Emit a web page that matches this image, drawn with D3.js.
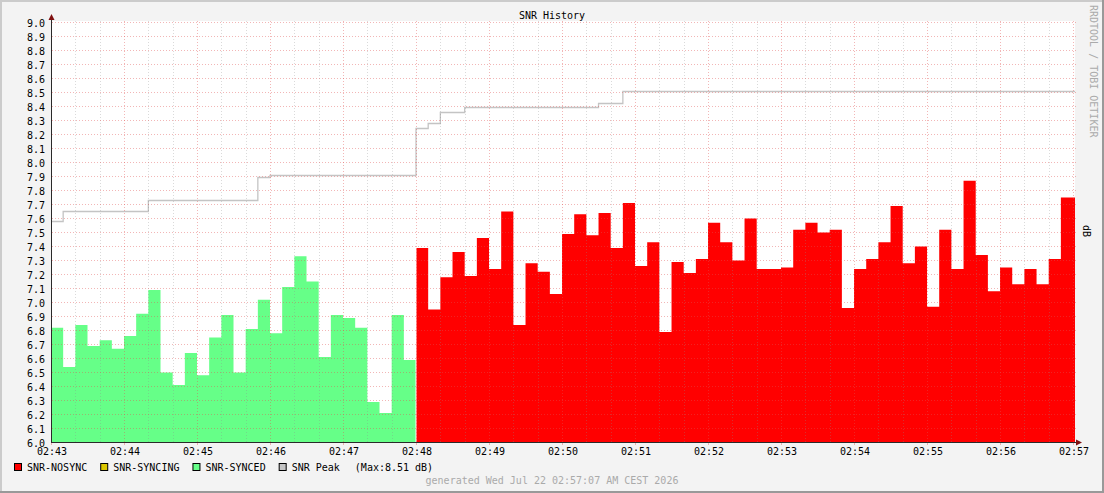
<!DOCTYPE html>
<html><head><meta charset="utf-8">
<script src="https://cdn.jsdelivr.net/npm/d3@7"></script>
<style>
html,body{margin:0;padding:0;background:#f3f3f3;}
svg{display:block;}
text{font-family:"DejaVu Sans Mono",monospace;font-size:10px;}
</style></head><body>
<svg id="chart" width="1104" height="493"></svg>
<script>
// ---- data ----
const startTime = "2026-07-22T02:43:00";
const stepSeconds = 10;
// SNR-SYNCED, 02:43:00 .. 02:47:50
const syncedValues = [6.82, 6.54, 6.84, 6.69, 6.73, 6.67, 6.76, 6.92, 7.09, 6.50,
                      6.41, 6.64, 6.48, 6.75, 6.91, 6.50, 6.81, 7.02, 6.78, 7.11,
                      7.33, 7.15, 6.61, 6.91, 6.89, 6.82, 6.29, 6.21, 6.91, 6.59];
// SNR-NOSYNC, 02:48:00 .. 02:56:50
const nosyncValues = [7.39, 6.95, 7.18, 7.36, 7.19, 7.46, 7.24, 7.65, 6.84, 7.28,
                      7.22, 7.06, 7.49, 7.63, 7.48, 7.64, 7.39, 7.71, 7.26, 7.43,
                      6.79, 7.29, 7.21, 7.31, 7.57, 7.43, 7.30, 7.60, 7.24, 7.24,
                      7.25, 7.52, 7.57, 7.50, 7.52, 6.96, 7.24, 7.31, 7.43, 7.69,
                      7.28, 7.40, 6.97, 7.52, 7.24, 7.87, 7.34, 7.08, 7.25, 7.13,
                      7.24, 7.13, 7.31, 7.75];
// SNR Peak, 02:43:00 .. 02:56:50
const peakValues = [7.58, 7.65, 7.65, 7.65, 7.65, 7.65, 7.65, 7.65, 7.73, 7.73,
                    7.73, 7.73, 7.73, 7.73, 7.73, 7.73, 7.73, 7.89, 7.91, 7.91,
                    7.91, 7.91, 7.91, 7.91, 7.91, 7.91, 7.91, 7.91, 7.91, 7.91,
                    8.24, 8.28, 8.36, 8.36, 8.39, 8.39, 8.39, 8.39, 8.39, 8.39,
                    8.39, 8.39, 8.39, 8.39, 8.39, 8.42, 8.42, 8.51, 8.51, 8.51,
                    8.51, 8.51, 8.51, 8.51, 8.51, 8.51, 8.51, 8.51, 8.51, 8.51,
                    8.51, 8.51, 8.51, 8.51, 8.51, 8.51, 8.51, 8.51, 8.51, 8.51,
                    8.51, 8.51, 8.51, 8.51, 8.51, 8.51, 8.51, 8.51, 8.51, 8.51,
                    8.51, 8.51, 8.51, 8.51];
const xTickLabels = ["02:43","02:44","02:45","02:46","02:47","02:48","02:49","02:50",
                     "02:51","02:52","02:53","02:54","02:55","02:56","02:57"];
const yTickLabels = ["6.0","6.1","6.2","6.3","6.4","6.5","6.6","6.7","6.8","6.9",
                     "7.0","7.1","7.2","7.3","7.4","7.5","7.6","7.7","7.8","7.9",
                     "8.0","8.1","8.2","8.3","8.4","8.5","8.6","8.7","8.8","8.9","9.0"];
const legendLabels = ["SNR-NOSYNC", "SNR-SYNCING", "SNR-SYNCED", "SNR Peak"];
const peakMaxLabel = "(Max:8.51 dB)";
const titleText = "SNR History";
const unitText = "dB";
const watermarkText = "RRDTOOL / TOBI OETIKER";
const footerText = "generated Wed Jul 22 02:57:07 AM CEST 2026";

// ---- styles ----
const colNosync = "#ff0000", colSyncing = "#dcc800", colSynced = "#66ff88", colPeak = "#c4c4c4";
const legendColors = [colNosync, colSyncing, colSynced, colPeak];
const W = 1104, H = 493;
const L = 51, R = 1075, T = 22, B = 442;

const svg = d3.select("#chart");
const t0 = new Date(startTime);
const tEnd = new Date(+t0 + 841600);
const x = d3.scaleTime().domain([t0, tEnd]).range([L, R]);
const y = d3.scaleLinear().domain([6, 9]).range([B + 0.5, T + 0.5]);
const stepMs = stepSeconds * 1000;
const parseHM = s => { const [h, m] = s.split(":").map(Number); const d = new Date(t0); d.setHours(h, m, 0, 0); return d; };

// background + 3D frame
svg.append("rect").attr("width", W).attr("height", H).attr("fill", "#f3f3f3");
svg.append("path").attr("d", `M0,${H} V0 H${W}`).attr("fill", "none").attr("stroke", "#cbcbcb").attr("stroke-width", 4);
svg.append("path").attr("d", `M0,${H} H${W} V0`).attr("fill", "none").attr("stroke", "#999999").attr("stroke-width", 4);

// canvas
svg.append("rect").attr("x", L).attr("y", T - 1).attr("width", R - L).attr("height", B - T + 1).attr("fill", "#ffffff");

// series
const synced = syncedValues.map((v, i) => ({ t: new Date(+t0 + i * stepMs), v }));
synced.push({ t: new Date(+t0 + syncedValues.length * stepMs), v: syncedValues[syncedValues.length - 1], edge: -0.5 });
const nosync = nosyncValues.map((v, i) => ({ t: new Date(+t0 + (syncedValues.length + i) * stepMs), v, edge: i === 0 ? 0.5 : 0 }));
nosync.push({ t: tEnd, v: nosyncValues[nosyncValues.length - 1] });
const peak = peakValues.map((v, i) => ({ t: new Date(+t0 + i * stepMs), v }));
peak.push({ t: tEnd, v: peakValues[peakValues.length - 1] });

const area = d3.area().curve(d3.curveStepAfter)
  .x(d => x(d.t) + (d.edge || 0)).y0(y(6)).y1(d => y(d.v));
svg.append("path").datum(synced).attr("d", area).attr("fill", colSynced);
svg.append("path").datum(nosync).attr("d", area).attr("fill", colNosync);

const line = d3.line().curve(d3.curveStepAfter).x(d => x(d.t)).y(d => Math.round(y(d.v) - 0.5) + 0.5);
svg.append("path").datum(peak).attr("d", line).attr("fill", "none").attr("stroke", colPeak).attr("stroke-width", 1.3);

// grid (drawn over the data, semi-transparent, dotted)
const minorCol = "rgba(140,140,140,0.32)", majorCol = "rgba(224,80,80,0.42)";
const g = svg.append("g");
const minuteTimes = xTickLabels.map(parseHM);
const minorTimes = d3.timeSecond.every(20).range(t0, tEnd).filter(d => d.getSeconds() !== 0);
g.selectAll(".vminor").data(minorTimes).enter().append("line")
  .attr("x1", d => Math.round(x(d)) + 0.5).attr("x2", d => Math.round(x(d)) + 0.5)
  .attr("y1", T - 1).attr("y2", B).attr("stroke", minorCol).attr("stroke-dasharray", "1,2");
g.selectAll(".vmajor").data(minuteTimes.slice(1)).enter().append("line")
  .attr("x1", d => Math.round(x(d)) + 0.5).attr("x2", d => Math.round(x(d)) + 0.5)
  .attr("y1", T - 1).attr("y2", B).attr("stroke", majorCol).attr("stroke-dasharray", "1,2");
g.selectAll(".vtick").data(minuteTimes).enter().append("line")
  .attr("x1", d => Math.round(x(d)) + 0.5).attr("x2", d => Math.round(x(d)) + 0.5)
  .attr("y1", B + 1).attr("y2", B + 3).attr("stroke", majorCol);
g.selectAll(".hmajor").data(yTickLabels.map(Number).slice(1)).enter().append("line")
  .attr("x1", L + 1).attr("x2", R + 2)
  .attr("y1", d => y(d)).attr("y2", d => y(d)).attr("stroke", majorCol).attr("stroke-dasharray", "1,2");

// axes
const axisCol = "#2a2a2a", arrowCol = "#7f1010";
svg.append("line").attr("x1", L + 0.5).attr("x2", L + 0.5).attr("y1", B + 0.5).attr("y2", T - 4).attr("stroke", axisCol);
svg.append("line").attr("x1", L).attr("x2", R + 2).attr("y1", B + 0.5).attr("y2", B + 0.5).attr("stroke", axisCol);
svg.append("path").attr("d", `M${L - 2.5},${T - 2} L${L + 3.5},${T - 2} L${L + 0.5},${T - 8} Z`).attr("fill", arrowCol);
svg.append("path").attr("d", `M${R + 1},${B - 2.5} L${R + 1},${B + 3.5} L${R + 7},${B + 0.5} Z`).attr("fill", arrowCol);

// y labels via d3 axis
const yAxis = d3.axisLeft(y).tickValues(yTickLabels.map(Number)).tickFormat(d3.format(".1f")).tickSize(0).tickPadding(0);
const ya = svg.append("g").attr("transform", `translate(${L - 6},0)`).call(yAxis);
ya.select(".domain").remove();
ya.selectAll("text").attr("font-family", "DejaVu Sans Mono").attr("font-size", 10).attr("fill", "#000").attr("dy", "0.36em");

// x labels via d3 axis
const xAxis = d3.axisBottom(x).tickValues(minuteTimes).tickFormat((d, i) => xTickLabels[i]).tickSize(0).tickPadding(0);
const xa = svg.append("g").attr("transform", `translate(0.5,${B + 6})`).call(xAxis);
xa.select(".domain").remove();
xa.selectAll("text").attr("font-family", "DejaVu Sans Mono").attr("font-size", 10).attr("fill", "#000").attr("dy", "0.71em");

// title
svg.append("text").attr("x", W / 2).attr("y", 19).attr("text-anchor", "middle").attr("fill", "#000").text(titleText);

// watermark + unit
svg.append("text").attr("transform", `translate(1090,5) rotate(90)`).attr("fill", "#aaaaaa").text(watermarkText);
svg.append("text").attr("transform", `translate(1083,231) rotate(90)`).attr("text-anchor", "middle").attr("fill", "#000").text(unitText);

// legend
let lx = 14;
const ly = 463;
legendLabels.forEach((lab, i) => {
  svg.append("rect").attr("x", lx + 0.5).attr("y", ly + 0.5).attr("width", 7).attr("height", 7)
    .attr("fill", legendColors[i]).attr("stroke", "#000").attr("stroke-width", 1);
  const t = svg.append("text").attr("x", lx + 13).attr("y", ly + 7.5).attr("fill", "#000").text(lab);
  lx = lx + 13 + t.node().getComputedTextLength() + 13;
});
svg.append("text").attr("x", lx + 2).attr("y", ly + 7.5).attr("fill", "#000").text(peakMaxLabel);

// footer
svg.append("text").attr("x", W / 2).attr("y", 484).attr("text-anchor", "middle").attr("fill", "#aaaaaa").text(footerText);
</script>
</body></html>
